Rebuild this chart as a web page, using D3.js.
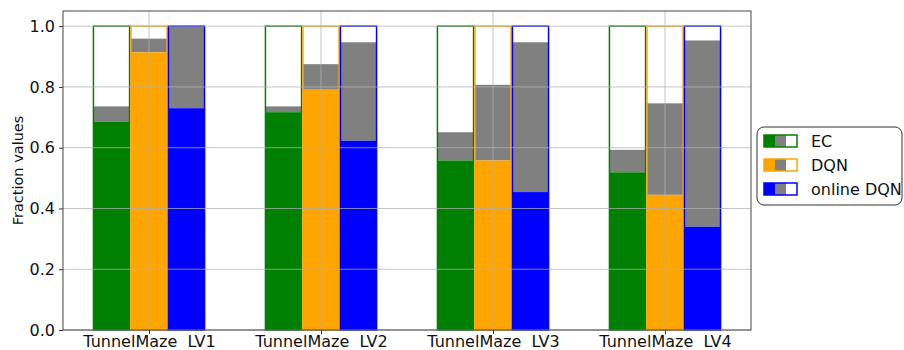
<!DOCTYPE html>
<html><head><meta charset="utf-8">
<script src="https://cdn.jsdelivr.net/npm/d3@7"></script>
<style>body{margin:0;background:#fff}svg{display:block}text{font-family:"DejaVu Sans",sans-serif;white-space:pre}</style>
</head><body><svg id="c" width="904" height="350"></svg>
<script>
const categories = ["TunnelMaze  LV1","TunnelMaze  LV2","TunnelMaze  LV3","TunnelMaze  LV4"];
const seriesNames = ["EC","DQN","online DQN"];
const seriesColors = ["#008000","#ffa500","#0000ff"];
// bottom (coloured) segment top value
const ecLow = [0.686,0.717,0.558,0.519];
const dqnLow = [0.914,0.791,0.558,0.445];
const onlineLow = [0.730,0.623,0.454,0.340];
// gray segment top value
const ecHigh = [0.736,0.736,0.651,0.593];
const dqnHigh = [0.959,0.875,0.807,0.746];
const onlineHigh = [1.0,0.947,0.947,0.953];
const yTicks = [0,0.2,0.4,0.6,0.8,1.0];

const lows=[ecLow,dqnLow,onlineLow], highs=[ecHigh,dqnHigh,onlineHigh];
const svg=d3.select("#c");
const L=63,R=751,T=11,B=330;
const x=d3.scaleLinear().domain([-0.5,3.5]).range([L,R]);
const y=d3.scaleLinear().domain([0,1.05]).range([B,T]);
const bw=0.21, off=0.218;

const g=svg.append("g");
categories.forEach((c,i)=>{
  seriesNames.forEach((s,j)=>{
    const cx=i+(j-1)*off;
    const x0=x(cx-bw/2), x1=x(cx+bw/2);
    const lo=lows[j][i], hi=highs[j][i];
    g.append("rect").attr("x",x0).attr("width",x1-x0).attr("y",y(1)).attr("height",y(hi)-y(1)).attr("fill","#fff");
    g.append("rect").attr("x",x0).attr("width",x1-x0).attr("y",y(hi)).attr("height",y(lo)-y(hi)).attr("fill","#808080");
    g.append("rect").attr("x",x0).attr("width",x1-x0).attr("y",y(lo)).attr("height",y(0)-y(lo)).attr("fill",seriesColors[j]);
    g.append("rect").attr("x",x0).attr("width",x1-x0).attr("y",y(1)).attr("height",y(0)-y(1)).attr("fill","none").attr("stroke",seriesColors[j]).attr("stroke-width",1.5);
  });
});
// grid on top
const grid=svg.append("g").attr("stroke","#b0b0b0").attr("stroke-opacity",0.75).attr("stroke-width",1);
yTicks.forEach(t=>grid.append("line").attr("x1",L).attr("x2",R).attr("y1",y(t)).attr("y2",y(t)));
categories.forEach((c,i)=>grid.append("line").attr("x1",x(i)).attr("x2",x(i)).attr("y1",T).attr("y2",B));

// axes
const yAxis=d3.axisLeft(y).tickValues(yTicks).tickFormat(d3.format(".1f")).tickSize(4).tickPadding(4);
const ya=svg.append("g").attr("transform",`translate(${L},0)`).call(yAxis);
const xAxis=d3.axisBottom(x).tickValues([0,1,2,3]).tickFormat(i=>categories[i]).tickSize(4).tickPadding(2);
const xa=svg.append("g").attr("transform",`translate(0,${B})`).call(xAxis);
[ya,xa].forEach(a=>{a.select(".domain").remove();a.attr("font-size",null).attr("font-family",null);a.selectAll("text").style("font-size","16px").attr("fill","#111").style("font-family","DejaVu Sans");a.selectAll("line").attr("stroke","#333");});
svg.append("rect").attr("x",L).attr("y",T).attr("width",R-L).attr("height",B-T).attr("fill","none").attr("stroke","#444").attr("stroke-width",1);

svg.append("text").attr("transform",`translate(19,${(T+B)/2}) rotate(-90)`).attr("text-anchor","middle").attr("dominant-baseline","middle").style("font-size","14.5px").attr("fill","#111").text("Fraction values");

// legend
const lg=svg.append("g");
lg.append("rect").attr("x",757).attr("y",127).attr("width",145).attr("height",78).attr("rx",7).attr("fill","#fff").attr("stroke","#333").attr("stroke-width",1);
seriesNames.forEach((s,j)=>{
  const cy=141+j*24, px=764, pw=33, ph=12;
  lg.append("rect").attr("x",px).attr("y",cy-ph/2).attr("width",pw/3).attr("height",ph).attr("fill",seriesColors[j]);
  lg.append("rect").attr("x",px+pw/3).attr("y",cy-ph/2).attr("width",pw/3).attr("height",ph).attr("fill","#808080");
  lg.append("rect").attr("x",px+2*pw/3).attr("y",cy-ph/2).attr("width",pw/3).attr("height",ph).attr("fill","#fff");
  lg.append("rect").attr("x",px).attr("y",cy-ph/2).attr("width",pw).attr("height",ph).attr("fill","none").attr("stroke",seriesColors[j]).attr("stroke-width",1.5);
  lg.append("text").attr("x",811).attr("y",cy).attr("dominant-baseline","central").style("font-size","16px").attr("fill","#111").text(s);
});
</script></body></html>
